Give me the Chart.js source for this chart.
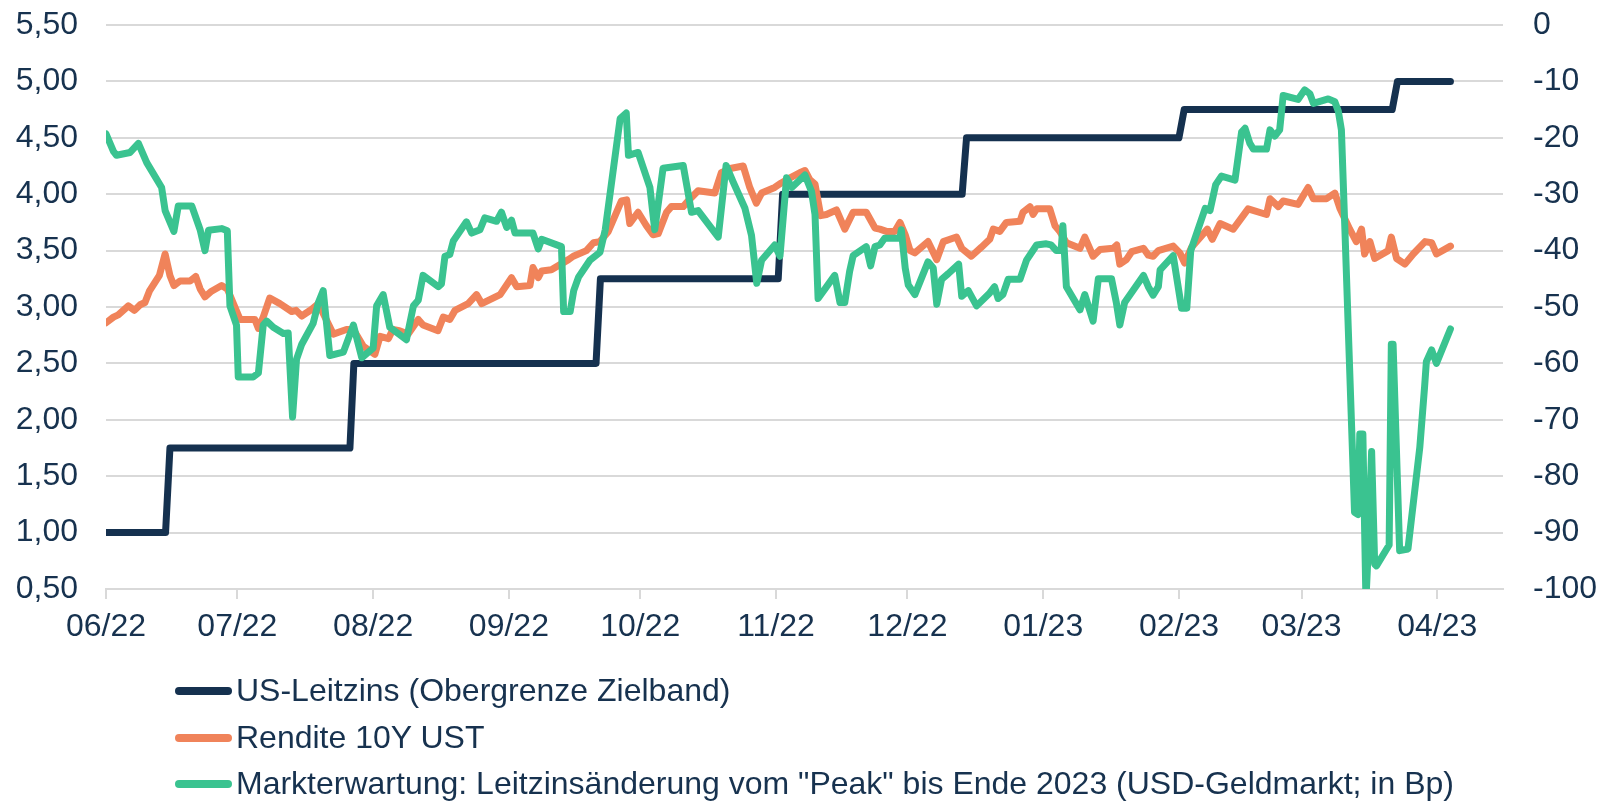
<!DOCTYPE html>
<html>
<head>
<meta charset="utf-8">
<script src="https://cdn.jsdelivr.net/npm/chart.js@4.4.1/dist/chart.umd.min.js"></script>
<style>
  html, body { margin: 0; padding: 0; background: #ffffff; }
  #wrap { position: relative; width: 1598px; height: 801px; overflow: hidden; }
  #c { position: absolute; left: 0; top: 0; }
  #legend { position: absolute; left: 175px; top: 667px; font-family: "Liberation Sans", Arial, sans-serif; font-size: 32px; color: #17324f; }
  .row { position: relative; height: 46.5px; line-height: 46.5px; white-space: nowrap; }
  .mark { position: absolute; left: 0; top: 20px; width: 57px; height: 8px; border-radius: 4px; }
  .txt { position: absolute; left: 61px; top: 0; }
</style>
</head>
<body>
<div id="wrap">
  <canvas id="c" width="1598" height="801"></canvas>
  <div id="legend"></div>
</div>
<script>
// ---- Data (x = days since 01.06.2022) ----
const seriesNames = [
  'US-Leitzins (Obergrenze Zielband)',
  'Rendite 10Y UST',
  'Markterwartung: Leitzinsänderung vom "Peak" bis Ende 2023 (USD-Geldmarkt; in Bp)'
];
const monthLabels = ['06/22','07/22','08/22','09/22','10/22','11/22','12/22','01/23','02/23','03/23','04/23'];

const policyDays = [0, 13.6, 14.6, 55.7, 56.6, 111.9, 112.9, 153.5, 154.5, 195.5, 196.5, 245, 246.2, 293.7, 294.9, 307];
const policyRate = [1.00, 1.00, 1.75, 1.75, 2.50, 2.50, 3.25, 3.25, 4.00, 4.00, 4.50, 4.50, 4.75, 4.75, 5.00, 5.00];

const yieldDays = [0, 1.7, 2.8, 5.1, 6.5, 7.8, 8.9, 9.9, 12.2, 13.5, 14.6, 15.5, 16.9, 19.2, 20.5, 21.5, 22.6, 24.1, 26.4, 27.7,
  29, 30.6, 34, 34.8, 35.9, 37.4, 39.7, 42.4, 43.4, 44.7, 47, 48.5, 51.9, 54.9, 56.5, 58.8, 61.4, 62.6, 64.5, 65.5,
  67, 69, 71.3, 72.4, 75.8, 77, 78.5, 79.7, 82.7, 84.6, 85.8, 90, 92.6, 93.8, 96.8, 97.5, 98.7, 99.5, 101.7, 105.6,
  106.7, 109.7, 111.3, 112.8, 114.7, 117.7, 118.9, 119.6, 121.5, 123.4, 124.9, 126.1, 128, 129.1, 131.8, 132.9, 135.2, 139, 140.5, 142.8,
  145.5, 147, 148.5, 149.7, 152.7, 154.2, 156, 158.4, 159.6, 160.7, 161.9, 163.2, 164.5, 166.8, 168.7, 170.6, 173.6, 175.6, 176.7, 178.2,
  180.1, 181.3, 182.5, 183.6, 184.7, 187.7, 189.7, 191.2, 194.2, 195.4, 197.6, 199.9, 201.8, 202.6, 204.1, 205.6, 208.7, 209.4, 211, 211.7,
  212.5, 215.5, 216.7, 217.8, 219.3, 222.4, 223.5, 225.4, 227, 230, 230.8, 231.5, 233, 234.2, 236.9, 238, 239.1, 240.3, 243.7, 245.2,
  246.3, 247.9, 251.5, 252.6, 254.4, 257.4, 260.8, 265, 265.8, 267.7, 268.8, 272.2, 274.5, 275.7, 278.7, 280.6, 281.8, 284, 285.5, 286.7,
  287.4, 288.6, 289.7, 292.8, 293.5, 294.7, 296.6, 298.5, 301.2, 302.7, 303.8, 307];
const yieldValues = [2.86, 2.91, 2.93, 3.01, 2.97, 3.02, 3.04, 3.14, 3.28, 3.47, 3.28, 3.19, 3.23, 3.23, 3.27, 3.16, 3.09, 3.14, 3.19, 3.16,
  3.04, 2.89, 2.89, 2.81, 2.91, 3.08, 3.03, 2.96, 2.97, 2.92, 2.98, 3.03, 2.76, 2.80, 2.80, 2.65, 2.58, 2.74, 2.72, 2.80,
  2.79, 2.76, 2.89, 2.84, 2.79, 2.91, 2.89, 2.97, 3.03, 3.11, 3.03, 3.11, 3.26, 3.18, 3.19, 3.35, 3.26, 3.32, 3.33, 3.42,
  3.45, 3.50, 3.57, 3.58, 3.67, 3.94, 3.95, 3.74, 3.84, 3.72, 3.64, 3.65, 3.84, 3.89, 3.89, 3.94, 4.03, 4.01, 4.19, 4.23,
  4.25, 4.06, 3.92, 4.01, 4.06, 4.10, 4.14, 4.19, 4.21, 4.13, 4.09, 3.81, 3.82, 3.86, 3.69, 3.84, 3.84, 3.70, 3.69, 3.67,
  3.67, 3.75, 3.64, 3.50, 3.48, 3.58, 3.42, 3.58, 3.62, 3.52, 3.45, 3.53, 3.60, 3.69, 3.67, 3.75, 3.76, 3.84, 3.89, 3.82,
  3.87, 3.87, 3.72, 3.67, 3.57, 3.52, 3.62, 3.45, 3.51, 3.52, 3.55, 3.38, 3.42, 3.49, 3.52, 3.46, 3.45, 3.50, 3.54, 3.48,
  3.39, 3.53, 3.69, 3.60, 3.74, 3.69, 3.87, 3.82, 3.96, 3.89, 3.94, 3.91, 4.06, 3.96, 3.96, 4.01, 3.87, 3.69, 3.58, 3.69,
  3.47, 3.58, 3.43, 3.50, 3.62, 3.43, 3.38, 3.47, 3.58, 3.57, 3.47, 3.54];

const expDays = [0, 1.7, 2.4, 5.5, 7.4, 9.3, 12.7, 13.5, 15.5, 16.5, 19.6, 21.5, 22.6, 23.4, 26.4, 27.7, 28.3, 29.8, 30.2, 33.6,
  34.8, 35.9, 36.7, 38.2, 40.5, 41.6, 42.6, 43.5, 44.7, 47.3, 48.5, 49.6, 51.1, 54.2, 56.5, 58.4, 61, 61.8, 63.3, 64.8,
  68.6, 70.2, 71.3, 72.4, 75.9, 76.6, 77.4, 78.5, 79.3, 82.3, 83.5, 85.4, 86.5, 89.2, 90.3, 91.5, 92.6, 93.4, 97.5, 98.7,
  99.5, 104, 104.5, 106, 106.8, 107.9, 110.5, 112.8, 114, 117.4, 118.8, 119.3, 121.5, 124.2, 125.3, 127.2, 131.8, 133.7, 135.2, 139.8,
  141.6, 143.2, 145.9, 147.4, 148.6, 149.7, 152.7, 153.9, 155.4, 156.6, 159.6, 161.1, 161.9, 162.6, 166.4, 167.6, 168.7, 169.8, 170.6, 173.6,
  174.6, 175.6, 176.7, 177.8, 181.3, 181.6, 182.5, 183.2, 184.7, 187.7, 188.9, 189.7, 190.8, 192.3, 194.7, 195.4, 196.9, 198.8, 201.8, 202.9,
  203.7, 204.8, 206, 208.7, 210.2, 212.5, 214.7, 215.8, 217, 218.1, 218.5, 219.3, 222.4, 223.5, 225.4, 226.6, 229.6, 230.7, 231.5, 232.6,
  236.9, 238, 239.1, 240.3, 240.7, 243.7, 245.6, 246.8, 247.7, 251, 252.1, 253.4, 254.7, 257.8, 259.3, 260.1, 261.2, 262, 265, 265.8,
  266.9, 268, 268.8, 272.2, 273.7, 274.9, 275.7, 279.1, 280.6, 281.4, 282.1, 282.9, 285.1, 285.9, 286.3, 287, 287.7, 288.2, 289, 289.7,
  290.1, 293, 293.5, 293.9, 295.4, 297.3, 300, 301.1, 301.5, 302.7, 303.8, 307];
const expValues = [-19.3, -22.4, -23.1, -22.6, -21.0, -24.4, -28.8, -32.9, -36.6, -32.1, -32.1, -36.3, -40.0, -36.4, -36.1, -36.5, -49.8, -53.2, -62.4, -62.4,
  -61.7, -53.2, -52.5, -53.6, -54.7, -54.6, -69.5, -59.3, -56.6, -52.9, -49.2, -47.1, -58.6, -58.0, -53.2, -59.0, -57.3, -49.8, -47.8, -53.6,
  -55.8, -49.8, -48.8, -44.4, -46.4, -45.9, -41.0, -40.7, -38.3, -34.9, -36.9, -36.3, -34.2, -34.8, -33.2, -35.9, -34.6, -36.9, -36.9, -39.7,
  -38.0, -39.3, -50.8, -50.8, -47.1, -44.7, -41.7, -40.3, -36.3, -16.6, -15.6, -23.1, -22.6, -28.8, -36.3, -25.4, -24.9, -33.2, -32.9, -37.6,
  -24.9, -27.8, -32.5, -37.3, -45.8, -41.7, -39.0, -41.0, -27.1, -28.8, -26.6, -29.5, -33.6, -48.5, -44.4, -49.2, -49.2, -43.7, -40.9, -39.3,
  -42.7, -39.3, -39.0, -37.8, -37.8, -36.3, -43.1, -46.1, -47.8, -42.0, -43.1, -49.5, -45.1, -44.1, -42.4, -48.1, -47.1, -49.8, -47.5, -46.4,
  -48.5, -47.8, -45.1, -45.1, -41.7, -39.0, -38.8, -39.0, -40.0, -40.0, -35.6, -46.4, -50.5, -47.8, -52.5, -45.0, -45.0, -49.2, -53.2, -49.2,
  -44.4, -46.4, -47.9, -46.4, -43.4, -40.9, -50.2, -50.2, -40.0, -32.5, -32.9, -28.3, -26.8, -27.5, -19.0, -18.3, -21.0, -22.0, -22.0, -18.6,
  -19.7, -18.6, -12.5, -13.2, -11.5, -12.2, -13.9, -13.1, -13.6, -15.3, -18.6, -36.3, -86.4, -86.8, -72.5, -72.5, -102, -93.6, -75.6, -95.6,
  -95.9, -92.2, -56.6, -56.6, -93.2, -92.9, -74.9, -64.1, -59.7, -57.6, -60.0, -53.9];

// ---- Styling ----
const colors = ['#15314f', '#f0835a', '#3ac390'];
const textColor = '#17324f';
const gridColor = '#d9d9d9';
const fontFamily = '"Liberation Sans", Arial, sans-serif';
const fontSize = 32;

const startUTC = Date.UTC(2022, 5, 1);
const monthTickDays = monthLabels.map(l => {
  const m = parseInt(l.slice(0, 2), 10) - 1;
  const y = 2000 + parseInt(l.slice(3), 10);
  return Math.round((Date.UTC(y, m, 1) - startUTC) / 86400000);
});

const toPoints = (xs, ys) => xs.map((x, i) => ({ x: x, y: ys[i] }));

const common = { pointRadius: 0, pointHoverRadius: 0, borderWidth: 7, tension: 0, fill: false,
  borderCapStyle: 'round', borderJoinStyle: 'round', clip: 0 };

const fitVertical = w => s => { s.width = w; s.paddingTop = 0; s.paddingBottom = 0; };

new Chart(document.getElementById('c'), {
  type: 'line',
  data: {
    datasets: [
      Object.assign({ label: seriesNames[0], data: toPoints(policyDays, policyRate), borderColor: colors[0], backgroundColor: colors[0], yAxisID: 'y', order: 3 }, common),
      Object.assign({ label: seriesNames[1], data: toPoints(yieldDays, yieldValues), borderColor: colors[1], backgroundColor: colors[1], yAxisID: 'y', order: 2 }, common),
      Object.assign({ label: seriesNames[2], data: toPoints(expDays, expValues), borderColor: colors[2], backgroundColor: colors[2], yAxisID: 'y1', order: 1 }, common)
    ]
  },
  options: {
    responsive: false,
    animation: false,
    devicePixelRatio: 1,
    layout: { autoPadding: false, padding: { top: 25, left: 0, right: 0, bottom: 0 } },
    plugins: { legend: { display: false }, tooltip: { enabled: false } },
    scales: {
      x: {
        type: 'linear', min: 0, max: 319,
        afterFit: s => { s.height = 212; s.paddingLeft = 0; s.paddingRight = 0; },
        afterBuildTicks: s => { s.ticks = monthTickDays.map(v => ({ value: v })); },
        grid: { drawOnChartArea: false, drawTicks: true, tickLength: 10, color: gridColor, lineWidth: 2 },
        border: { display: true, color: gridColor, width: 2 },
        ticks: {
          autoSkip: false, maxRotation: 0, padding: 9, color: textColor,
          font: { family: fontFamily, size: fontSize },
          callback: v => monthLabels[monthTickDays.indexOf(v)] || ''
        }
      },
      y: {
        position: 'left', min: 0.5, max: 5.5,
        afterFit: fitVertical(106),
        grid: { color: gridColor, lineWidth: 2, drawTicks: false },
        border: { display: false },
        ticks: { stepSize: 0.5, padding: 28, color: textColor, font: { family: fontFamily, size: fontSize },
          callback: v => v.toFixed(2).replace('.', ',') }
      },
      y1: {
        position: 'right', min: -100, max: 0,
        afterFit: fitVertical(95),
        grid: { drawOnChartArea: false, drawTicks: false },
        border: { display: false },
        ticks: { stepSize: 10, padding: 30, color: textColor, font: { family: fontFamily, size: fontSize },
          callback: v => String(v) }
      }
    }
  }
});

// ---- Legend (one entry per row, as in the original) ----
const legend = document.getElementById('legend');
seriesNames.forEach((name, i) => {
  const row = document.createElement('div');
  row.className = 'row';
  const mark = document.createElement('span');
  mark.className = 'mark';
  mark.style.background = colors[i];
  const txt = document.createElement('span');
  txt.className = 'txt';
  txt.textContent = name;
  row.appendChild(mark);
  row.appendChild(txt);
  legend.appendChild(row);
});
</script>
</body>
</html>
